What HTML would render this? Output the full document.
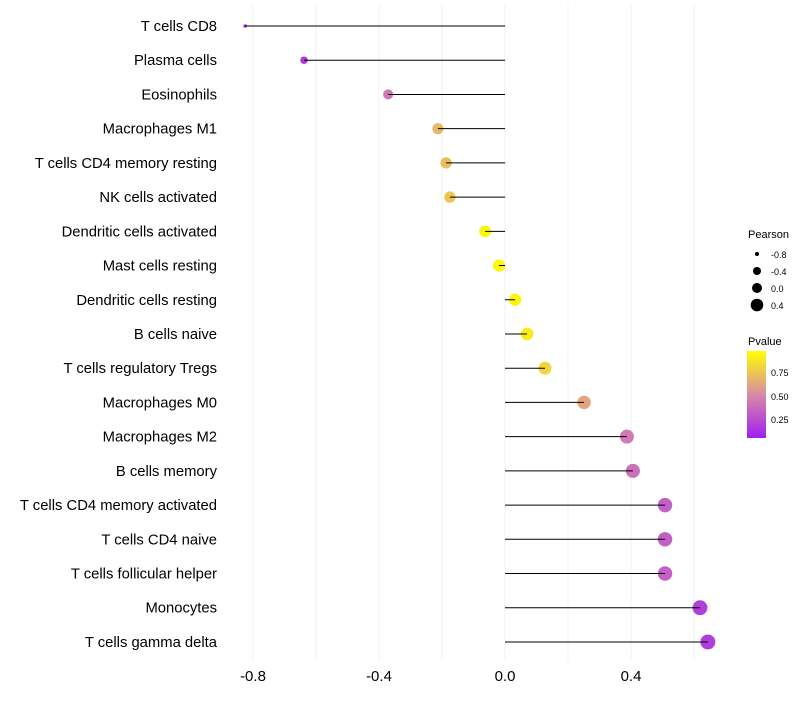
<!DOCTYPE html>
<html><head><meta charset="utf-8"><style>
body{margin:0;background:#fff;font-family:"Liberation Sans",sans-serif}
</style></head><body>
<svg id="c" width="800" height="700" xmlns="http://www.w3.org/2000/svg">
<defs><linearGradient id="pg" x1="0" y1="1" x2="0" y2="0">
<stop offset="0" stop-color="#a020f0"/><stop offset="0.5" stop-color="#d98aa8"/><stop offset="1" stop-color="#ffff00"/>
</linearGradient></defs>
<g id="grid"></g><g id="marks"></g><g id="labels"></g>
<g font-size="10">
<text x="748" y="238" font-size="11">Pearson</text>
<circle cx="757" cy="254" r="2" fill="#000"/><text x="771" y="258" font-size="9">-0.8</text>
<circle cx="757" cy="271" r="4" fill="#000"/><text x="771" y="275" font-size="9">-0.4</text>
<circle cx="757" cy="288" r="5" fill="#000"/><text x="771" y="292" font-size="9">0.0</text>
<circle cx="757" cy="305" r="6.3" fill="#000"/><text x="771" y="309" font-size="9">0.4</text>
<text x="748" y="345" font-size="11">Pvalue</text>
<rect x="747" y="351" width="19" height="87" fill="url(#pg)"/>
<text x="771" y="376" font-size="9">0.75</text>
<text x="771" y="400" font-size="9">0.50</text>
<text x="771" y="423" font-size="9">0.25</text>
</g>
</svg>
<script>
const categories=["T cells CD8","Plasma cells","Eosinophils","Macrophages M1","T cells CD4 memory resting","NK cells activated","Dendritic cells activated","Mast cells resting","Dendritic cells resting","B cells naive","T cells regulatory  Tregs ","Macrophages M0","Macrophages M2","B cells memory","T cells CD4 memory activated","T cells CD4 naive","T cells follicular helper","Monocytes","T cells gamma delta"];
const pearson=[-0.825,-0.638,-0.371,-0.213,-0.187,-0.175,-0.063,-0.019,0.032,0.070,0.127,0.251,0.387,0.406,0.508,0.508,0.508,0.619,0.644];
const pvalues=[0.05,0.12,0.42,0.70,0.72,0.76,0.96,0.97,0.96,0.92,0.82,0.62,0.42,0.38,0.30,0.30,0.30,0.15,0.14];
const xTicks=[-0.8,-0.4,0.0,0.4];
const xTickLabels=["-0.8","-0.4","0.0","0.4"];
const NS="http://www.w3.org/2000/svg";
const xs=v=>505+v*315;
const ys=i=>26+i*34.22;
const rs=v=>Math.max(1.5,6.5*Math.pow(Math.max(0,v+0.85),0.35));
function lerp(a,b,t){return a.map((x,i)=>Math.round(x+(b[i]-x)*t));}
function col(p){const c0=[160,32,240],c1=[217,138,168],c2=[255,255,0];
const c=p<0.5?lerp(c0,c1,p/0.5):lerp(c1,c2,(p-0.5)/0.5);return `rgb(${c.join(',')})`;}
function mk(t,a,parent){const e=document.createElementNS(NS,t);for(const k in a)e.setAttribute(k,a[k]);parent.appendChild(e);return e;}
const grid=document.getElementById('grid'),marks=document.getElementById('marks'),labels=document.getElementById('labels');
for(let v=-0.8;v<=0.61;v+=0.2){const l=mk('line',{x1:xs(v),x2:xs(v),y1:5,y2:660,stroke:'#f0f0f0','stroke-width':1},grid);

}
xTicks.forEach((v,i)=>{const t=mk('text',{x:xs(v),y:681,'text-anchor':'middle','font-size':15,fill:'#000'},labels);t.textContent=xTickLabels[i];

});
categories.forEach((c,i)=>{const y=ys(i);
const t=mk('text',{x:217,y:y+5,'text-anchor':'end','font-size':14.8,fill:'#000'},labels);t.textContent=c;


const p=mk('circle',{cx:xs(pearson[i]),cy:y,r:rs(pearson[i]),fill:col(pvalues[i])},marks);


const s=mk('line',{x1:xs(0),x2:xs(pearson[i]),y1:y,y2:y,stroke:'#000','stroke-width':1},marks);

});
</script>
</body></html>
